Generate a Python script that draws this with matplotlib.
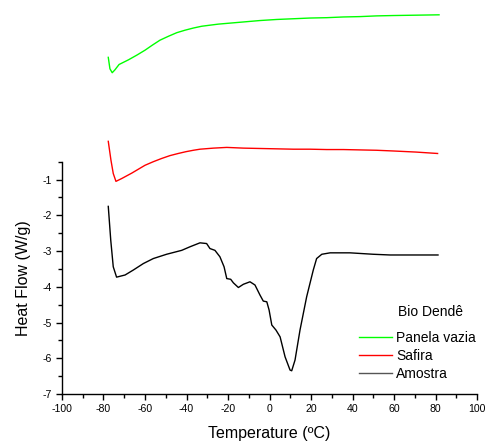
import numpy as np
import matplotlib
matplotlib.use('Agg')
import matplotlib.pyplot as plt
import matplotlib.ticker as ticker
from matplotlib.lines import Line2D

plt.rcParams['font.family'] = ['Liberation Sans', 'DejaVu Sans']
plt.rcParams['axes.unicode_minus'] = False

# Panela vazia (empty pan)
t_green = [-77.7, -76.9, -75.8, -74.5, -72.5, -68.0, -64.0, -60.0, -56.5, -52.8, -48.7, -44.7,
           -40.7, -36.7, -32.7, -28.7, -24.6, -20.6, -12.6, -4.6, 3.5, 11.5, 19.5, 27.6,
           35.6, 43.6, 51.6, 59.7, 70.7, 81.7]
hf_green = [2.42, 2.10, 1.99, 2.07, 2.22, 2.35, 2.48, 2.62, 2.76, 2.90, 3.01, 3.11,
            3.18, 3.24, 3.29, 3.32, 3.35, 3.37, 3.41, 3.45, 3.48, 3.50, 3.52, 3.53,
            3.55, 3.56, 3.58, 3.59, 3.60, 3.61]

# Safira (sapphire)
t_red = [-77.7, -76.4, -75.3, -74.0, -71.2, -66.4, -60.0, -56.0, -52.0, -48.0, -44.0, -40.3,
         -36.7, -33.5, -27.0, -20.6, -12.6, -4.6, 3.5, 11.5, 19.5, 27.6, 35.6, 43.6,
         51.6, 59.7, 70.5, 81.0]
hf_red = [0.07, -0.46, -0.83, -1.05, -0.97, -0.82, -0.60, -0.50, -0.41, -0.33, -0.27, -0.22,
          -0.18, -0.15, -0.12, -0.10, -0.12, -0.13, -0.14, -0.15, -0.15, -0.16, -0.16, -0.17,
          -0.18, -0.20, -0.23, -0.27]

# Amostra (sample)
t_black = [-77.7, -76.5, -75.3, -73.7, -69.6, -65.6, -60.8, -56.0, -49.6, -42.3, -38.3, -33.5,
           -30.3, -28.7, -26.3, -23.9, -21.9, -20.6, -18.7, -17.4, -15.0, -12.6, -9.4, -7.0,
           -4.6, -3.0, -1.3, -0.2, 1.1, 3.1, 5.1, 7.5, 9.9, 10.7, 12.3, 14.7,
           17.9, 21.1, 22.7, 25.2, 29.2, 38.8, 50.0, 58.1, 70.0, 81.2]
hf_black = [-1.75, -2.70, -3.44, -3.73, -3.67, -3.53, -3.35, -3.21, -3.09, -2.98, -2.88, -2.77,
            -2.79, -2.93, -2.98, -3.16, -3.44, -3.77, -3.79, -3.89, -4.02, -3.93, -3.86, -3.95,
            -4.23, -4.40, -4.42, -4.65, -5.07, -5.21, -5.40, -5.96, -6.33, -6.35, -6.05, -5.21,
            -4.28, -3.53, -3.21, -3.09, -3.05, -3.05, -3.09, -3.11, -3.11, -3.11]

fig = plt.figure(figsize=(4.87, 4.44), dpi=100)
ax = fig.add_axes([0.1273, 0.1126, 0.8522, 0.5232])

ax.plot(t_green, hf_green, color='#00ff00', lw=1.0, clip_on=False)
ax.plot(t_red, hf_red, color='#ff0000', lw=1.0, clip_on=False)
ax.plot(t_black, hf_black, color='black', lw=1.0, clip_on=False)

ax.set_xlim(-100, 100)
ax.set_ylim(-7, -0.5)
ax.xaxis.set_major_locator(ticker.MultipleLocator(20))
ax.xaxis.set_minor_locator(ticker.MultipleLocator(10))
ax.yaxis.set_major_locator(ticker.FixedLocator([-7, -6, -5, -4, -3, -2, -1]))
ax.yaxis.set_minor_locator(ticker.MultipleLocator(0.5))
ax.tick_params(which='major', length=4, width=1, labelsize=7.6, direction='out')
ax.tick_params(which='minor', length=3, width=1, direction='out')
for s in ['top', 'right']:
    ax.spines[s].set_visible(False)
for s in ['left', 'bottom']:
    ax.spines[s].set_linewidth(1.0)

ax.set_xlabel('Temperature (ºC)', fontsize=11.5, labelpad=8)
ax.set_ylabel('Heat Flow (W/g)', fontsize=11.5, labelpad=8)

handles = [Line2D([0], [0], color='#00ff00', lw=1.0),
           Line2D([0], [0], color='#ff0000', lw=1.0),
           Line2D([0], [0], color='#555555', lw=1.0)]
fig.legend(handles, ['Panela vazia', 'Safira', 'Amostra'],
           loc='upper left', bbox_to_anchor=(0.737, 0.254), frameon=False,
           fontsize=10, handlelength=2.4, handletextpad=0.3,
           labelspacing=0.28, borderaxespad=0, borderpad=0)
fig.text(0.885, 0.298, 'Bio Dendê', fontsize=10, ha='center', va='center')

fig.savefig('out.png', dpi=100)
